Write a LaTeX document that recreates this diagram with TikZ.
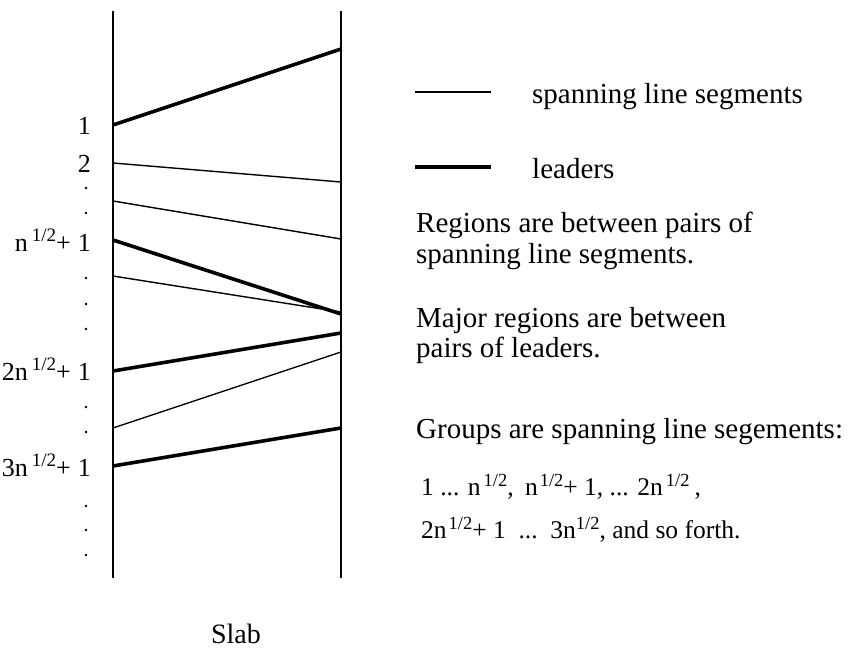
\documentclass[tikz,border=0pt]{standalone}
\usepackage{fontspec}
\setmainfont{Liberation Serif}
\newcommand\halfL{\hspace{4pt}\raisebox{10pt}{\fontsize{19}{19}\selectfont 1/2}}
\newcommand\halfG{\raisebox{9pt}{\fontsize{18.5}{18.5}\selectfont 1/2}}
\tikzset{
  slabline/.style={line width=2pt},
  thinseg/.style={line width=1.4pt},
  leaderseg/.style={line width=3.6pt},
  lbl/.style={anchor=base east, inner sep=0pt, font=\fontsize{26}{26}\selectfont},
  txt/.style={anchor=base west, inner sep=0pt, font=\fontsize{29}{30}\selectfont},
  grp/.style={anchor=base west, inner sep=0pt, font=\fontsize{25.5}{25.5}\selectfont},
  dotmark/.style={circle, fill=black, inner sep=0pt, minimum size=2.8pt}
}
\begin{document}
\begin{tikzpicture}[x=1pt,y=-1pt]
\useasboundingbox (0,0) rectangle (850,650);
% slab boundaries
\coordinate (LT) at (113,11); \coordinate (LB) at (113,578);
\coordinate (RT) at (341,11); \coordinate (RB) at (341,578);
\draw[slabline] (LT) -- (LB);
\draw[slabline] (RT) -- (RB);
% segment endpoints
\coordinate (L1) at (113,125); \coordinate (R1) at (341,49);
\coordinate (L2) at (113,163); \coordinate (R2) at (341,182);
\coordinate (L3) at (113,201); \coordinate (R3) at (341,239);
\coordinate (L4) at (113,240); \coordinate (R4) at (341,314);
\coordinate (L5) at (113,276); \coordinate (R5) at (341,312);
\coordinate (L6) at (113,371); \coordinate (R6) at (341,333);
\coordinate (L7) at (113,428); \coordinate (R7) at (341,352);
\coordinate (L8) at (113,466); \coordinate (R8) at (341,428);
\draw[leaderseg] (L1) -- (R1);
\draw[thinseg] (L2) -- (R2);
\draw[thinseg] (L3) -- (R3);
\draw[leaderseg] (L4) -- (R4);
\draw[thinseg] (L5) -- (R5);
\draw[leaderseg] (L6) -- (R6);
\draw[thinseg] (L7) -- (R7);
\draw[leaderseg] (L8) -- (R8);
% left labels
\node[lbl] (n1) at (91,134) {1};
\node[lbl] (n2) at (91,172) {2};
\node[lbl] (n3) at (91,251) {n\halfL+\hspace{7pt}1};
\node[lbl] (n4) at (91,380) {2n\halfL+\hspace{7pt}1};
\node[lbl] (n5) at (91,476) {3n\halfL+\hspace{7pt}1};
\foreach \y [count=\i] in {188,213,278,304,329,407,432,506,530,555}
  \node[dotmark] (d\i) at (86,\y) {};
% legend
\coordinate (A1) at (415,92); \coordinate (A2) at (491,92);
\coordinate (B1) at (415,167); \coordinate (B2) at (491,167);
\draw[thinseg] (A1) -- (A2);
\draw[leaderseg] (B1) -- (B2);
\node[txt] (t1) at (532,103) {spanning line segments};
\node[txt] (t2) at (532,178) {leaders};
\node[txt] (t3) at (416,232) {Regions are between pairs of};
\node[txt] (t4) at (416,263) {spanning line segments.};
\node[txt] (t5) at (416,327) {Major regions are between};
\node[txt] (t6) at (416,357) {pairs of leaders.};
\node[txt] (t7) at (416,438) {Groups are spanning line segements:};
\node[grp] (g1) at (421,495) {1 ... n\hspace{3pt}\halfG,\hspace{5pt} n\hspace{2pt}\halfG+ 1, ... 2n\hspace{3pt}\halfG\hspace{5pt},};
\node[grp] (g2) at (421,538) {2n\hspace{2pt}\halfG+ 1 \ ...\ \ 3n\halfG, and so forth.};
% caption
\node[anchor=base, inner sep=0pt, font=\fontsize{28}{28}\selectfont] (slab) at (236,643) {Slab};
\end{tikzpicture}
\end{document}
